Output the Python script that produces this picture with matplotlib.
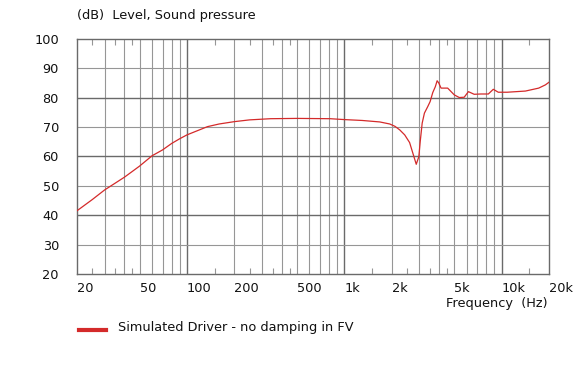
import matplotlib
matplotlib.use("Agg")
import matplotlib.pyplot as plt
from matplotlib.ticker import FixedLocator, NullFormatter

# Частотная характеристика (Гц, дБ)
freq_hz = [20, 25, 30, 35, 40, 45, 50, 60, 70, 80, 90, 100, 120, 135, 160, 200,
           250, 340, 500, 813, 1000, 1300, 1680, 1945, 2100, 2250, 2420, 2600,
           2730, 2866, 2977, 3037, 3126, 3230, 3390, 3510, 3650, 3790, 3890,
           3980, 4120, 4325, 4540, 5000, 5380, 5780, 6150, 6690, 7370, 8230,
           8850, 9520, 10840, 14170, 17200, 18970, 20000]
spl_db = [41.5, 45.3, 48.6, 50.9, 52.9, 54.9, 56.7, 60.2, 62.2, 64.4, 66.0,
          67.3, 69.0, 70.1, 71.0, 71.8, 72.4, 72.8, 72.9, 72.8, 72.5, 72.2,
          71.7, 71.0, 70.2, 69.0, 67.3, 64.7, 61.0, 57.3, 59.9, 65.0, 71.3,
          74.7, 76.9, 78.6, 81.7, 83.7, 85.7, 85.0, 83.2, 83.2, 83.2, 80.9,
          80.0, 80.1, 82.0, 81.1, 81.2, 81.2, 82.8, 81.8, 81.8, 82.2, 83.2,
          84.3, 85.2]

x_labels = [20, 50, 100, 200, 500, 1000, 2000, 5000, 10000, 20000]
x_label_text = ["20", "50", "100", "200", "500", "1k", "2k", "5k", "10k", "20k"]
y_ticks = [20, 30, 40, 50, 60, 70, 80, 90, 100]

CURVE_COLOR = "#d42a2a"
GRID_LIGHT = "#969696"
GRID_DARK = "#6a6a6a"
TEXT_COLOR = "#111111"

plt.rcParams['font.family'] = ['DejaVu Sans']

fig = plt.figure(figsize=(5.78, 3.66), dpi=100)
ax = fig.add_axes([77 / 578, 1 - 274 / 366, 472 / 578, 235.3 / 366])
ax.set_xscale('log')
ax.set_xlim(20, 20000)
ax.set_ylim(20, 100)

# Сетка: декады и каждые 20 дБ темнее
for dec in [10, 100, 1000, 10000]:
    for m in range(1, 10):
        f = dec * m
        if 20 < f < 20000:
            dark = (m == 1)
            ax.axvline(f, color=GRID_DARK if dark else GRID_LIGHT,
                       lw=1.0 if dark else 0.8, zorder=1)
for v in y_ticks[1:-1]:
    dark = (v % 20 == 0)
    ax.axhline(v, color=GRID_DARK if dark else GRID_LIGHT,
               lw=1.0 if dark else 0.8, zorder=1)

ax.plot(freq_hz, spl_db, color=CURVE_COLOR, lw=0.9, zorder=3)

for s in ax.spines.values():
    s.set_color(GRID_DARK)
    s.set_linewidth(1.0)

# Подписи оси X (слева от линии)
ax.xaxis.set_major_locator(FixedLocator(x_labels))
ax.set_xticklabels(x_label_text)
ax.xaxis.set_minor_locator(FixedLocator([25, 35, 45, 150, 250, 350, 450,
                                         1500, 2500, 3500, 4500, 15000]))
ax.xaxis.set_minor_formatter(NullFormatter())
ax.tick_params(axis='x', which='major', length=0, pad=6, labelsize=9.3,
               colors=TEXT_COLOR)
ax.tick_params(axis='x', which='minor', length=4, width=0.8, direction='in',
               top=True, bottom=True, color=GRID_LIGHT)
for lbl in ax.get_xticklabels():
    lbl.set_ha('left')

ax.set_yticks(y_ticks)
ax.tick_params(axis='y', length=0, pad=13, labelsize=9.3, colors=TEXT_COLOR)

fig.text(77 / 578, 1 - 16 / 366, "(dB)  Level, Sound pressure", fontsize=9.3,
         ha='left', va='center', color=TEXT_COLOR)
fig.text(548 / 578, 1 - 303 / 366, "Frequency  (Hz)", fontsize=9.3,
         ha='right', va='center', color=TEXT_COLOR)

# Легенда
fig.add_artist(plt.Line2D([79 / 578, 106 / 578], [1 - 330 / 366, 1 - 330 / 366],
                          color=CURVE_COLOR, lw=3, transform=fig.transFigure))
fig.text(118 / 578, 1 - 327 / 366, "Simulated Driver - no damping in FV",
         fontsize=9.3, ha='left', va='center', color=TEXT_COLOR)

fig.savefig("out.png", dpi=100)
